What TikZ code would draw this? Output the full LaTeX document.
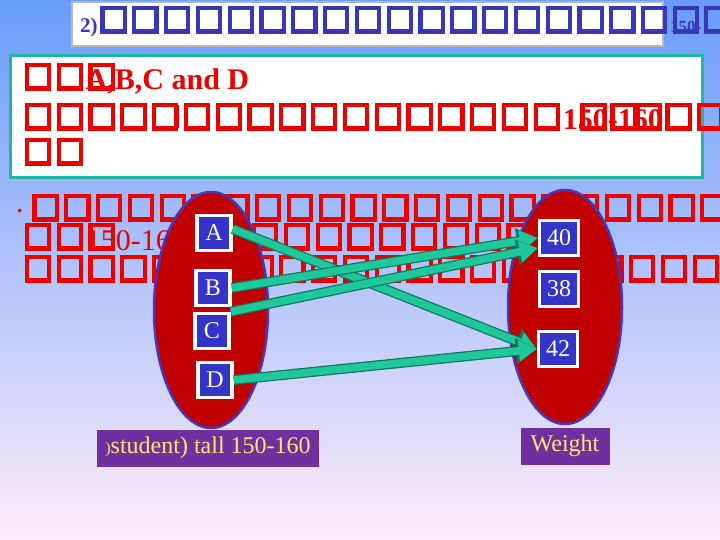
\documentclass[tikz,border=0pt]{standalone}
\usepackage{fontspec}
\setmainfont{Liberation Serif}
\usetikzlibrary{arrows.meta,shapes.geometric}

\definecolor{bgtop}{RGB}{104,156,250}
\definecolor{bgmid}{RGB}{172,205,242}
\definecolor{bgbot}{RGB}{253,236,250}
\definecolor{titlenavy}{RGB}{55,55,185}
\definecolor{rowred}{RGB}{235,0,0}
\definecolor{tealline}{RGB}{32,184,160}
\definecolor{setred}{RGB}{192,0,0}
\definecolor{setedge}{RGB}{70,55,185}
\definecolor{elemblue}{RGB}{52,52,200}
\definecolor{arrowfill}{RGB}{30,200,155}
\definecolor{arrowedge}{RGB}{16,120,95}
\definecolor{labpurple}{RGB}{112,48,160}
\definecolor{labyellow}{RGB}{255,230,110}

\newcommand{\tofu}{\hspace{0.09em}\raisebox{0.12em}{\setlength{\fboxsep}{0pt}\setlength{\fboxrule}{0.14em}\fbox{\rule{0pt}{0.64em}\rule{0.6em}{0pt}}}\hspace{0.09em}}
\newcommand{\tofus}[1]{\foreach \k in {1,...,#1}{\tofu}}

\begin{document}
\begin{tikzpicture}[x=1pt,y=-1pt]
\tikzset{tofurow/.style = {anchor=base west, inner sep=0pt, text=rowred, font=\fontsize{30}{30}\selectfont}}
\tikzset{setshape/.style = {ellipse, fill=setred, draw=setedge, line width=2.5pt, minimum width=114pt, minimum height=236pt}}
\tikzset{elem/.style = {fill=elemblue, draw=white, line width=3.5pt, text=white, font=\fontsize{24}{24}\selectfont, minimum width=34pt, minimum height=35pt, inner sep=1pt}}
\tikzset{weightelem/.style = {elem, minimum width=39pt, minimum height=35pt}}
\tikzset{edge/.style = {line width=7.5pt, draw=arrowfill, -{Triangle[length=18pt,width=20pt]}, preaction={draw=arrowedge, line width=10pt, -{Triangle[length=21pt,width=25pt]}}}}
\tikzset{lab/.style = {fill=labpurple, text=labyellow, font=\fontsize{24}{24}\selectfont, inner sep=0pt, minimum height=37pt}}

% background
\useasboundingbox (0,0) rectangle (720,540);
\shade[top color=bgtop, middle color=bgmid, bottom color=bgbot] (0,0) rectangle (720,540);
\draw[fill=white, draw=black!28, line width=2.5pt] (72,2) rectangle (663,46);
\draw[fill=white, draw=tealline, line width=3pt] (10,56) rectangle (702,178);

% text rows
\node[tofurow, text=titlenavy, font=\bfseries\fontsize{30}{30}\selectfont] (title) at (80,33) {{\fontsize{21}{21}\selectfont 2)}\tofus{18}\rlap{\tofu}{\fontsize{17}{17}\selectfont 150-}\tofu};
\node[tofurow, font=\bfseries\fontsize{30}{30}\selectfont] (rowone) at (22,90) {\tofu\tofu\rlap{\tofu}A,B,C and D};
\node[tofurow, font=\bfseries\fontsize{30}{30}\selectfont] (rowtwo) at (22,130) {\tofus{17}1\rlap{\tofu}50\rlap{\tofu}-1\rlap{\tofu}60\tofu\tofu};
\node[tofurow] (rowthree) at (22,165) {\tofu\tofu};
\node[tofurow] (rowfour) at (16,221) {\raisebox{0.3em}{.}\hspace{0.2em}\tofus{22}};
\node[tofurow] (rowfive) at (22,250) {\tofu\tofu\rlap{\tofu}150-160\tofus{11}};
\node[tofurow] (rowsix) at (22,282) {\tofus{22}};

% sets
\node[setshape] (tall) at (211,310) {};
\node[setshape, minimum height=234pt] (weight) at (565,307) {};

\node[elem] (A) at (214,233) {A};
\node[elem] (B) at (213,288) {B};
\node[elem] (C) at (212,331) {C};
\node[elem] (D) at (215,380) {D};

\node[weightelem] (w40) at (559,238) {40};
\node[weightelem] (w38) at (559,289) {38};
\node[weightelem] (w42) at (558,349) {42};

%edges
\draw[edge] ([yshift=4pt]A.east) to (w42.west);
\draw[edge] (B.east) to (w40.west);
\draw[edge] (C.north east) to ([yshift=-10pt]w40.west);
\draw[edge] (D.east) to (w42.west);

% labels
\node[lab, minimum width=222pt] (tallLab) at (208,448) {{\fontsize{16}{16}\selectfont)}student) tall 150-160};
\node[lab, minimum width=89pt] (weightLab) at (565,446) {Weight};

\end{tikzpicture}
\end{document}
